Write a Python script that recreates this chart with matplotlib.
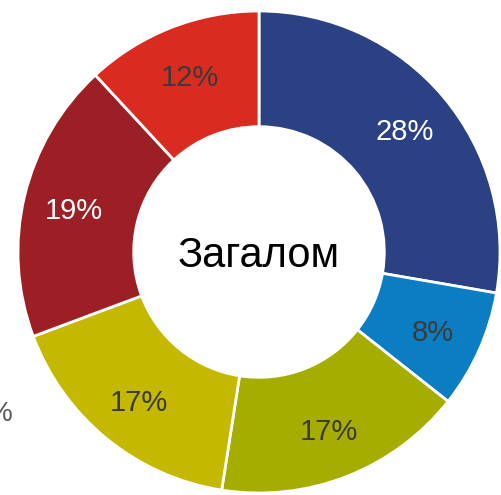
import matplotlib
matplotlib.use("Agg")
import matplotlib.pyplot as plt
import numpy as np

labels = ["28%", "8%", "17%", "17%", "19%", "12%"]
values = [28, 8, 17, 17, 19, 12]
colors = ["#2B4183", "#0B7EC3", "#A5AD00", "#C4B800", "#9C1F25", "#DA2B20"]
text_colors = ["white", "#3A3A3A", "#3A3A3A", "#3A3A3A", "white", "#3A3A3A"]
center_text = "Загалом"

plt.rcParams['font.family'] = ['Liberation Sans', 'DejaVu Sans']

fig = plt.figure(figsize=(5.02, 4.95), dpi=100)
# donut centre ~ (259, 252) px, outer radius ~241 px
ax = fig.add_axes([18 / 502, 2 / 495, 482 / 502, 482 / 495])

wedges, _ = ax.pie(values, colors=colors, startangle=90, counterclock=False,
                   radius=1.0, wedgeprops=dict(width=0.48, edgecolor="white", linewidth=2))
for w in wedges:
    w.set_clip_on(False)

total = sum(values)
ang = 90.0
for v, lab, tc in zip(values, labels, text_colors):
    mid = ang - v / total * 360 / 2
    ang -= v / total * 360
    r = 0.79
    x = r * np.cos(np.radians(mid))
    y = r * np.sin(np.radians(mid))
    ax.text(x, y, lab, ha="center", va="center_baseline", fontsize=21, color=tc)

ax.text(0, 0, center_text, ha="center", va="center_baseline", fontsize=30, color="black")
ax.set_xlim(-1, 1)
ax.set_ylim(-1, 1)
ax.set_aspect("equal")
ax.axis("off")

fig.text(-12 / 502, 1 - 414 / 495, "%", fontsize=20, color="#595959", ha="left", va="center")

fig.savefig("out.png", dpi=100)
